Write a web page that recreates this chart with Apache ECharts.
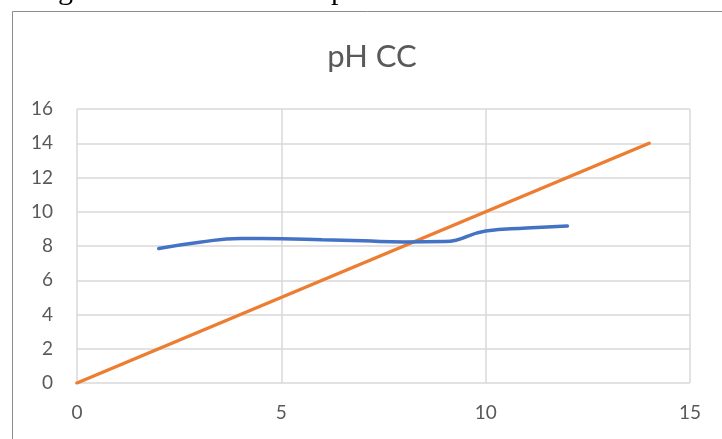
<!DOCTYPE html>
<html>
<head>
<meta charset="utf-8">
<script src="https://cdn.jsdelivr.net/npm/echarts@6/dist/echarts.min.js"></script>
<style>
  html, body { margin: 0; padding: 0; background: #ffffff; }
  #chart { width: 722px; height: 439px; }
</style>
</head>
<body>
<div id="chart"></div>
<script>
// pH readings (blue) and reference diagonal (orange)
const phX = [2, 3, 4, 5, 6, 7, 8, 9, 10, 11, 12];
const phY = [7.85, 8.22, 8.44, 8.43, 8.36, 8.3, 8.24, 8.26, 8.88, 9.05, 9.17];
const refX = [0, 14];
const refY = [0, 14];

const xTicks = { min: 0, max: 15, step: 5 };
const yTicks = { min: 0, max: 16, step: 2 };

const labelFont = 'Lato, "Open Sans", sans-serif';
const labelColor = '#595959';
const gridColor = '#d9d9d9';

const chart = echarts.init(document.getElementById('chart'), null, { renderer: 'canvas' });

chart.setOption({
  animation: false,
  backgroundColor: '#ffffff',
  title: {
    text: 'pH CC',
    left: 367,
    top: 36,
    textAlign: 'center',
    textStyle: {
      fontFamily: labelFont,
      fontWeight: 'normal',
      fontSize: 31,
      color: labelColor
    }
  },
  graphic: [
    {
      type: 'rect',
      shape: { x: 12.5, y: 11.5, width: 760, height: 460 },
      style: { fill: 'none', stroke: '#8c8c8c', lineWidth: 1 },
      silent: true
    },
    {
      type: 'text',
      left: 58,
      top: -24,
      style: { text: 'g', font: '30px "Liberation Serif", serif', fill: '#000000' },
      silent: true
    },
    {
      type: 'text',
      left: 331,
      top: -24,
      style: { text: 'p', font: '30px "Liberation Serif", serif', fill: '#000000' },
      silent: true
    }
  ],
  grid: {
    left: 77,
    right: 32,
    top: 109,
    bottom: 56,
    containLabel: false
  },
  xAxis: {
    type: 'value',
    min: xTicks.min,
    max: xTicks.max,
    interval: xTicks.step,
    axisLine: { show: false },
    axisTick: { show: false },
    splitLine: { show: true, lineStyle: { color: gridColor, width: 1.5 } },
    axisLabel: {
      margin: 20,
      fontFamily: labelFont,
      fontSize: 19,
      color: labelColor
    }
  },
  yAxis: {
    type: 'value',
    min: yTicks.min,
    max: yTicks.max,
    interval: yTicks.step,
    axisLine: { show: false },
    axisTick: { show: false },
    splitLine: { show: true, lineStyle: { color: gridColor, width: 1.5 } },
    axisLabel: {
      margin: 24,
      fontFamily: labelFont,
      fontSize: 19,
      color: labelColor
    }
  },
  series: [
    {
      name: 'Reference',
      type: 'line',
      data: refX.map((x, i) => [x, refY[i]]),
      showSymbol: false,
      lineStyle: { color: '#ED7D31', width: 3.5, cap: 'round' },
      z: 2
    },
    {
      name: 'pH',
      type: 'line',
      data: phX.map((x, i) => [x, phY[i]]),
      smooth: 0.5,
      showSymbol: false,
      lineStyle: { color: '#4472C4', width: 3.5, cap: 'round' },
      z: 3
    }
  ]
});
</script>
</body>
</html>
